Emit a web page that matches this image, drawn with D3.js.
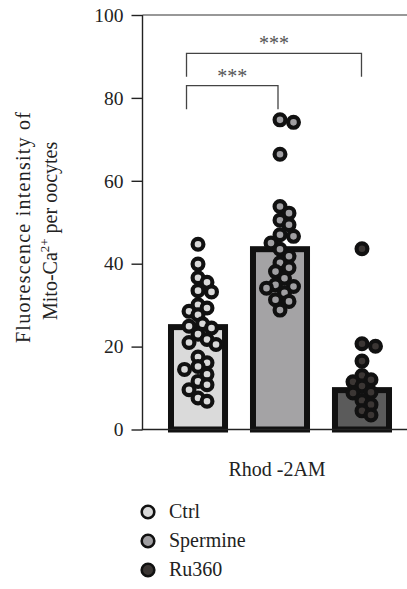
<!DOCTYPE html>
<html>
<head>
<meta charset="utf-8">
<script src="https://cdn.jsdelivr.net/npm/d3@7"></script>
<style>
  html, body { margin: 0; padding: 0; background: #fff; }
  svg { display: block; }
  text { font-family: "Liberation Serif", "DejaVu Serif", serif; fill: #222; }
</style>
</head>
<body>
<svg id="chart" width="407" height="589"></svg>
<script>
// ---- data ----
const categories = ["Ctrl", "Spermine", "Ru360"];
const barMeans = [24.7, 43.5, 9.5];
const ctrlValues = [44.7, 39.9, 36.6, 35.5, 33.5, 33.2, 30.1, 29.3, 28.5, 27.7, 25.5, 24.9, 24.5, 23, 21.7, 21, 20.5, 17.5, 16.1, 15.2, 14.5, 13.3, 11.6, 10.8, 9.6, 7.6, 6.8];
const spermineValues = [74.7, 74.1, 66.4, 53.8, 52.2, 50.5, 49.4, 47, 46.6, 45, 43.5, 41.8, 40.2, 39, 38.1, 36.5, 34.9, 34.5, 34.1, 33, 31.3, 30.9, 28.8];
const ru360Values = [43.6, 20.7, 20.1, 16.5, 13, 12, 11.5, 10.5, 9, 8.8, 7, 6, 4.5, 3.5];
const yTicks = [0, 20, 40, 60, 80, 100];
const xLabel = "Rhod -2AM";
const significance = [
  { from: "Ctrl", to: "Spermine", label: "***", level: 0 },
  { from: "Ctrl", to: "Ru360", label: "***", level: 1 }
];

const barFill = ["#dadada", "#a4a3a5", "#5b5b5b"];
const pointFill = ["#d9d9d9", "#a09fa2", "#3b3634"];
const groups = [ctrlValues, spermineValues, ru360Values];

// ---- layout ----
const svg = d3.select("#chart");
const axisX = 142.5, right = 407;
const y = d3.scaleLinear().domain([0, 100]).range([429.5, 15]);
const x = d3.scaleBand().domain(categories).range([130, 430]).paddingInner(0.341).paddingOuter(0.5);

// bars
svg.append("g").selectAll("rect").data(categories).join("rect")
  .attr("x", d => x(d))
  .attr("width", x.bandwidth())
  .attr("y", (d, i) => y(barMeans[i]))
  .attr("height", (d, i) => y(0) - y(barMeans[i]))
  .attr("fill", (d, i) => barFill[i])
  .attr("stroke", "#111")
  .attr("stroke-width", 6);

// beeswarm positions
const R = 5.4, SW = 4.2, minDist = 9.5;
function swarm(values, cx) {
  const placed = [];
  const sorted = values.map((v, i) => ({ v, i })).sort((a, b) => b.v - a.v);
  sorted.forEach(p => {
    const py = y(p.v);
    const offsets = [0];
    for (let k = 1; k < 12; k++) { offsets.push(k * 4.5, -k * 4.5); }
    let best = null;
    for (const o of offsets) {
      const ok = placed.every(q => Math.hypot(q.x - (cx + o), q.y - py) >= minDist);
      if (ok && Math.abs(o) <= 19) { best = o; break; }
    }
    if (best === null) {
      let bestD = -1;
      for (const o of offsets) {
        if (Math.abs(o) > 19) continue;
        const dmin = d3.min(placed, q => Math.hypot(q.x - (cx + o), q.y - py));
        if (dmin > bestD) { bestD = dmin; best = o; }
      }
    }
    placed.push({ x: cx + best, y: py, v: p.v });
  });
  return placed;
}

groups.forEach((vals, gi) => {
  const cx = x(categories[gi]) + x.bandwidth() / 2;
  const pts = swarm(vals, cx);
  svg.append("g").selectAll("circle").data(pts).join("circle")
    .attr("cx", d => d.x).attr("cy", d => d.y).attr("r", R)
    .attr("fill", pointFill[gi]).attr("stroke", "#111").attr("stroke-width", SW);
});

// axes
const axisG = svg.append("g").attr("transform", `translate(${axisX},0)`);
const yAxis = d3.axisLeft(y).tickValues(yTicks).tickSize(11).tickPadding(8).tickFormat(d3.format("d"));
axisG.call(yAxis);
axisG.select(".domain").remove();
axisG.selectAll(".tick line").attr("stroke", "#222").attr("stroke-width", 1.4);
axisG.selectAll(".tick text").attr("font-size", 19.5).attr("font-family", "Liberation Serif, DejaVu Serif, serif").attr("fill", "#222");
svg.append("line").attr("x1", axisX).attr("x2", axisX).attr("y1", y(100)).attr("y2", y(0))
  .attr("stroke", "#222").attr("stroke-width", 1.4);
svg.append("line").attr("x1", axisX - 0.7).attr("x2", right).attr("y1", y(0)).attr("y2", y(0))
  .attr("stroke", "#222").attr("stroke-width", 1.4);
svg.append("line").attr("x1", axisX).attr("x2", right).attr("y1", y(100)).attr("y2", y(100))
  .attr("stroke", "#333").attr("stroke-width", 1.2);

// significance brackets
const bx = c => x(c) + x.bandwidth() / 2;
const bracketY = [85.7, 53.3], dropLen = 23.5;
significance.forEach(s => {
  const x1 = bx(s.from) - 11.5, x2 = bx(s.to) - 2 + s.level * 1.5;
  const by = bracketY[s.level];
  svg.append("path")
    .attr("d", `M${x1},${by + dropLen}V${by}H${x2}V${by + dropLen}`)
    .attr("fill", "none").attr("stroke", "#444").attr("stroke-width", 1.3);
  const tx = (x1 + x2) / 2;
  svg.append("text").attr("x", tx).attr("y", by - 3)
    .attr("text-anchor", "middle").attr("font-size", 20).style("fill", "#555")
    .text(s.label);
});

// x label
svg.append("text").attr("x", 277).attr("y", 476).attr("text-anchor", "middle")
  .attr("font-size", 20).text(xLabel);

// y title
const title = svg.append("text").attr("transform", "rotate(-90)").attr("text-anchor", "middle").attr("font-size", 20);
title.append("tspan").attr("x", -227.5).attr("y", 29.5).attr("textLength", 231).attr("lengthAdjust", "spacing")
  .text("Fluorescence intensity of");
const l2 = svg.append("text").attr("transform", "rotate(-90)").attr("font-size", 20);
l2.append("tspan").attr("x", -320).attr("y", 57).text("Mito-Ca");
l2.append("tspan").attr("dy", -8).attr("font-size", 13).text("2+");
l2.append("tspan").attr("dy", 8).text(" per oocytes");

// legend
const legY = [512, 541, 570];
const leg = svg.append("g");
categories.forEach((c, i) => {
  leg.append("circle").attr("cx", 148).attr("cy", legY[i]).attr("r", 6.3)
    .attr("fill", pointFill[i]).attr("stroke", "#111").attr("stroke-width", 2.6);
  leg.append("text").attr("x", 169).attr("y", legY[i] + 6).attr("font-size", 20).text(c);
});
</script>
</body>
</html>
